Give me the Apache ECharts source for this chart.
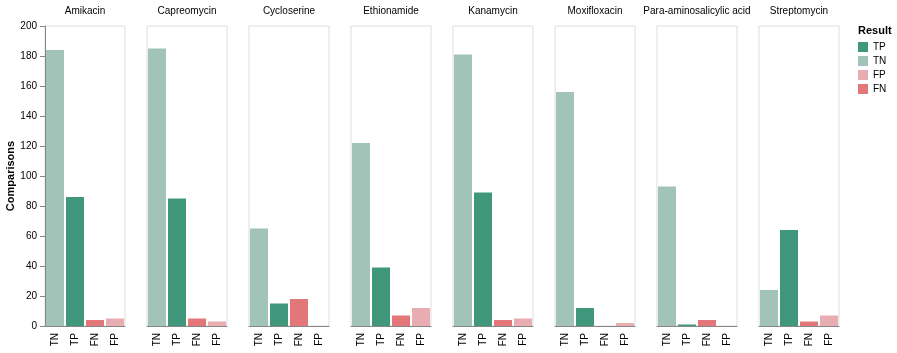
<!DOCTYPE html>
<html>
<head>
<meta charset="utf-8">
<script src="https://cdn.jsdelivr.net/npm/echarts@6/dist/echarts.min.js"></script>
<style>
  html, body { margin: 0; padding: 0; background: #fff; }
  #chart { width: 897px; height: 353px; }
</style>
</head>
<body>
<div id="chart"></div>
<script>
// facets and categories
const drugs = ["Amikacin", "Capreomycin", "Cycloserine", "Ethionamide", "Kanamycin", "Moxifloxacin", "Para-aminosalicylic acid", "Streptomycin"];
const categories = ["TN", "TP", "FN", "FP"];
const legendOrder = ["TP", "TN", "FP", "FN"];
const yTicks = [0, 20, 40, 60, 80, 100, 120, 140, 160, 180, 200];

// comparisons per drug
const tnValues = [184, 185, 65, 122, 181, 156, 93, 24];
const tpValues = [86, 85, 15, 39, 89, 12, 1, 64];
const fnValues = [4, 5, 18, 7, 4, 0, 4, 3];
const fpValues = [5, 3, 0, 12, 5, 2, 0, 7];

const colors = { TP: "#40977b", TN: "#a2c4b8", FP: "#e8adb0", FN: "#e27679" };
const valuesBy = { TN: tnValues, TP: tpValues, FN: fnValues, FP: fpValues };

const font = "Liberation Sans, Arial, Helvetica, sans-serif";
const panelLeft = 45, panelStep = 102, panelWidth = 80;

let grids = [], xAxes = [], yAxes = [], series = [], titles = [];

drugs.forEach((drug, i) => {
  grids.push({
    left: panelLeft + i * panelStep,
    top: 26,
    width: panelWidth,
    height: 300,
    show: true,
    borderColor: "#dddddd",
    borderWidth: 1
  });
  titles.push({
    text: drug,
    left: panelLeft + i * panelStep + panelWidth / 2,
    top: 6,
    padding: 0,
    textAlign: "center",
    textStyle: { fontFamily: font, fontSize: 10, fontWeight: "normal", color: "#000" }
  });
  xAxes.push({
    type: "category",
    gridIndex: i,
    data: categories,
    axisLine: { lineStyle: { color: "#888", width: 1 } },
    axisTick: { alignWithLabel: true, length: 5, lineStyle: { color: "#888" } },
    axisLabel: { rotate: 90, fontSize: 10, fontFamily: font, color: "#000", margin: 7 }
  });
  const first = i === 0;
  yAxes.push({
    type: "value",
    gridIndex: i,
    min: yTicks[0],
    max: yTicks[yTicks.length - 1],
    interval: yTicks[1] - yTicks[0],
    name: first ? "Comparisons" : "",
    nameLocation: "middle",
    nameGap: 25,
    nameTextStyle: { fontFamily: font, fontSize: 11, fontWeight: "bold", color: "#000" },
    axisLine: { show: first, lineStyle: { color: "#888", width: 1 } },
    axisTick: { show: first, length: 5, lineStyle: { color: "#888" } },
    axisLabel: { show: first, fontSize: 10, fontFamily: font, color: "#000", margin: 8 },
    splitLine: { show: false }
  });
  categories.forEach(r => {
    series.push({
      type: "bar",
      name: r,
      xAxisIndex: i,
      yAxisIndex: i,
      stack: "s" + i,
      barCategoryGap: "10%",
      itemStyle: { color: colors[r] },
      data: categories.map(c => (c === r ? valuesBy[r][i] : "-"))
    });
  });
});

titles.push({
  text: "Result",
  left: 858,
  top: 25,
  padding: 0,
  textStyle: { fontFamily: font, fontSize: 11, fontWeight: "bold", color: "#000" }
});

const myChart = echarts.init(document.getElementById("chart"));
myChart.setOption({
  animation: false,
  title: titles,
  grid: grids,
  xAxis: xAxes,
  yAxis: yAxes,
  legend: {
    data: legendOrder,
    orient: "vertical",
    left: 858,
    top: 42,
    padding: 0,
    icon: "rect",
    itemWidth: 10,
    itemHeight: 10,
    itemGap: 4,
    selectedMode: false,
    textStyle: { fontFamily: font, fontSize: 10, color: "#000" }
  },
  series: series
});
</script>
</body>
</html>
